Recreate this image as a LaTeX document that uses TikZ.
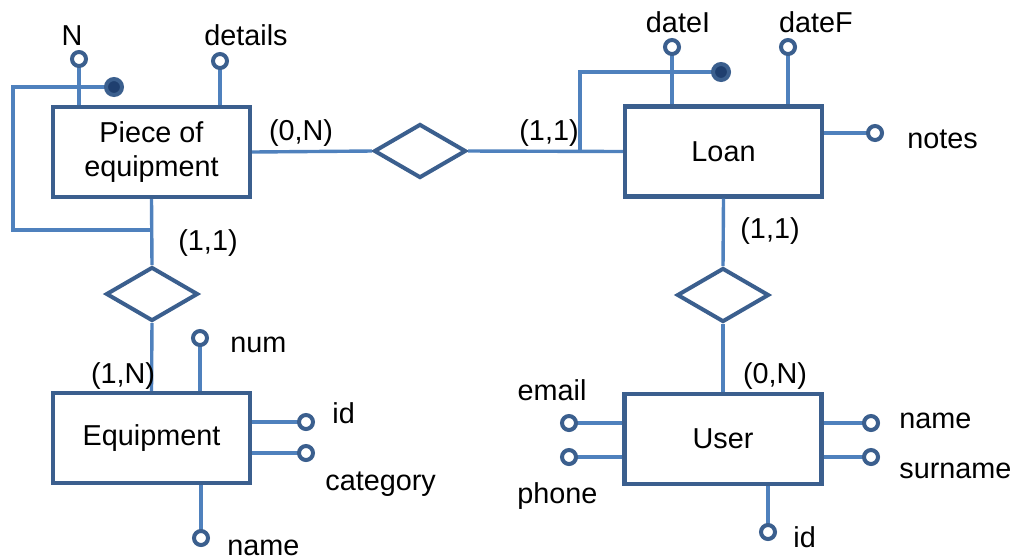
\documentclass[tikz,border=0pt]{standalone}
\usepackage{fontspec}
\setmainfont{Liberation Sans}
\usetikzlibrary{shapes.geometric}
\definecolor{boxblue}{HTML}{3B5F8E}
\definecolor{linkblue}{HTML}{4F81BD}
\definecolor{dotblue}{HTML}{1F3F6F}
\begin{document}
\begin{tikzpicture}[x=0.5pt,y=-0.5pt,
 entity/.style={draw=boxblue, line width=2.2pt, fill=white, minimum width=98.5pt, minimum height=45pt, inner sep=0pt, align=center, font=\fontsize{14.4}{17}\selectfont},
 rel/.style={draw=boxblue, line width=2pt, fill=white, diamond, aspect=1.7, minimum width=46pt, minimum height=27pt, inner sep=0pt},
 attr/.style={circle, draw=boxblue, fill=white, line width=2pt, minimum size=7pt, inner sep=0pt},
 keydot/.style={circle, draw=boxblue, fill=dotblue, line width=2pt, minimum size=8pt, inner sep=0pt},
 link/.style={draw=linkblue, line width=1.7pt},
 lbl/.style={inner sep=0pt, font=\fontsize{14.4}{17}\selectfont}
]
\useasboundingbox (0,0) rectangle (1015,559);

% entities
\node[entity] (pe) at (151.5,152) {Piece of\\equipment};
\node[entity] (loan) at (723.5,151.5) {Loan};
\node[entity] (eq) at (151.5,438) {Equipment};
\node[entity] (user) at (723,439) {User};

% relationships
\node[rel] (d1) at (420,151) {};
\node[rel] (d2) at (152,294) {};
\node[rel] (d3) at (723,295) {};

% attribute and identifier positions
\coordinate (aN) at (79,59);
\coordinate (adet) at (220,61);
\coordinate (adi) at (672,47);
\coordinate (adf) at (788,47);
\coordinate (anotes) at (875,133);
\coordinate (anum) at (200,338);
\coordinate (aid) at (306,422);
\coordinate (acat) at (306,453);
\coordinate (aname) at (201,538);
\coordinate (aemail) at (569,423);
\coordinate (aphone) at (569,457);
\coordinate (auname) at (871,423);
\coordinate (asur) at (871,457);
\coordinate (auid) at (768,532);
\coordinate (pdot) at (114,87);
\coordinate (ldot) at (721,72);
\coordinate (pj) at (152,230);
\coordinate (pc) at (13,87);
\coordinate (lj) at (580,151);

% connectors
\draw[link] (pe.east) -- (d1.west);
\draw[link] (d1.east) -- (loan.west);
\draw[link] (pe.south) -- (d2.north);
\draw[link] (d2.south) -- (eq.north);
\draw[link] (loan.south) -- (d3.north);
\draw[link] (d3.south) -- (user.north);
\draw[link] (pdot) -- (pc) |- (pj);
\draw[link] (lj) |- (ldot);
\draw[link] (aN) -- (aN |- pe.north);
\draw[link] (adet) -- (adet |- pe.north);
\draw[link] (adi) -- (adi |- loan.north);
\draw[link] (adf) -- (adf |- loan.north);
\draw[link] (loan.east |- anotes) -- (anotes);
\draw[link] (anum) -- (anum |- eq.north);
\draw[link] (eq.east |- aid) -- (aid);
\draw[link] (eq.east |- acat) -- (acat);
\draw[link] (aname |- eq.south) -- (aname);
\draw[link] (user.west |- aemail) -- (aemail);
\draw[link] (user.west |- aphone) -- (aphone);
\draw[link] (user.east |- auname) -- (auname);
\draw[link] (user.east |- asur) -- (asur);
\draw[link] (auid |- user.south) -- (auid);

% attribute circles and identifier dots, on top of connectors
\node[attr] (cN) at (aN) {};
\node[attr] (cdet) at (adet) {};
\node[attr] (cdi) at (adi) {};
\node[attr] (cdf) at (adf) {};
\node[attr] (cnotes) at (anotes) {};
\node[attr] (cnum) at (anum) {};
\node[attr] (cid) at (aid) {};
\node[attr] (ccat) at (acat) {};
\node[attr] (cname) at (aname) {};
\node[attr] (cemail) at (aemail) {};
\node[attr] (cphone) at (aphone) {};
\node[attr] (cuname) at (auname) {};
\node[attr] (csur) at (asur) {};
\node[attr] (cuid) at (auid) {};
\node[keydot] (kp) at (pdot) {};
\node[keydot] (kl) at (ldot) {};

% labels
\node[lbl, anchor=base] (lN) at (72,45) {N};
\node[lbl, anchor=base] (ldet) at (246,45) {details};
\node[lbl, anchor=base] (ldi) at (678,32) {dateI};
\node[lbl, anchor=base] (ldf) at (816,32) {dateF};
\node[lbl, anchor=base west] (lnotes) at (907,148) {notes};
\node[lbl, anchor=base] (c1) at (301,140) {(0,N)};
\node[lbl, anchor=base] (c2) at (549,140) {(1,1)};
\node[lbl, anchor=base] (c3) at (208,250) {(1,1)};
\node[lbl, anchor=base] (c4) at (123,383) {(1,N)};
\node[lbl, anchor=base] (c5) at (770,238) {(1,1)};
\node[lbl, anchor=base] (c6) at (775,383) {(0,N)};
\node[lbl, anchor=base west] (lnum) at (230,352) {num};
\node[lbl, anchor=base west] (lid) at (332,423) {id};
\node[lbl, anchor=base west] (lcat) at (325,490) {category};
\node[lbl, anchor=base west] (lname) at (227,555) {name};
\node[lbl, anchor=base] (lemail) at (552,400) {email};
\node[lbl, anchor=base west] (lphone) at (517,503) {phone};
\node[lbl, anchor=base west] (luname) at (899,428) {name};
\node[lbl, anchor=base west] (lsur) at (899,478) {surname};
\node[lbl, anchor=base west] (luid) at (793,547) {id};
\end{tikzpicture}
\end{document}
